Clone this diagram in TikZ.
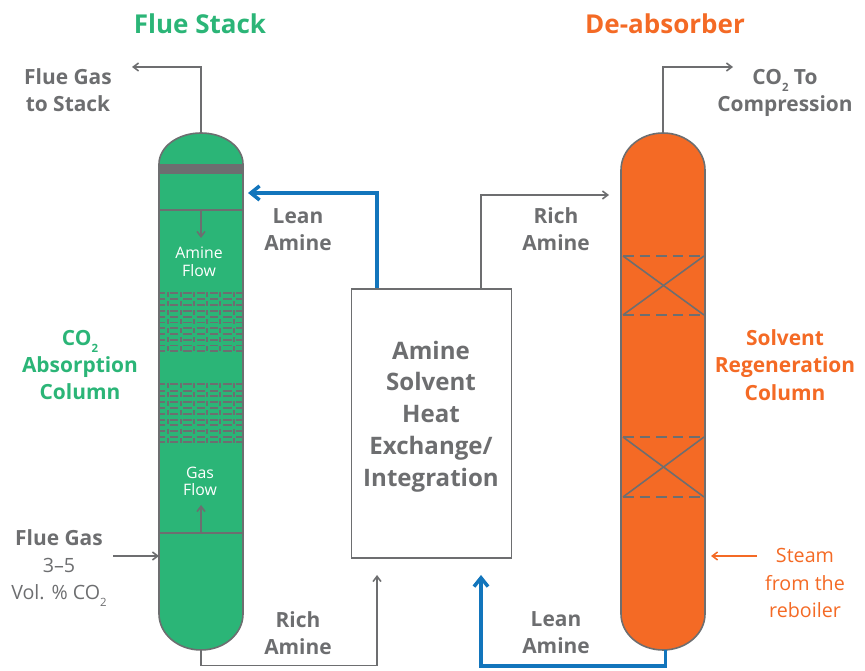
\documentclass[tikz,border=0pt]{standalone}
\usepackage{fontspec}
\setmainfont{Open Sans}
\usetikzlibrary{arrows.meta}
\definecolor{absgreen}{HTML}{2BB577}
\definecolor{regorange}{HTML}{F46A25}
\definecolor{linegray}{HTML}{6D6E70}
\definecolor{leanblue}{HTML}{1275BC}
\newcommand{\cotwo}{CO\raisebox{-0.6ex}{\fontsize{6.5}{7}\selectfont 2}}
\tikzset{
  label/.style={text=linegray, font=\bfseries\fontsize{11.9}{15.5}\selectfont, align=center, inner sep=0pt},
  note/.style={text=linegray, font=\fontsize{11.2}{15.4}\selectfont, align=center, inner sep=0pt},
  greenlabel/.style={label, text=absgreen},
  orangelabel/.style={label, text=regorange},
  title/.style={font=\bfseries\fontsize{14.8}{17}\selectfont, inner sep=0pt},
  inner/.style={text=white, font=\fontsize{9}{10}\selectfont, align=center, inner sep=0pt},
  column/.style={minimum width=84*0.02cm, minimum height=517*0.02cm, inner sep=0pt},
  gas/.style={-{Straight Barb[length=3pt,width=4.5pt]}, draw=linegray, line width=0.9pt},
  amine/.style={-{Straight Barb[length=5pt,width=8pt]}, draw=leanblue, line width=2pt},
  tray/.style={draw=linegray, line width=0.9pt},
  pack/.style={draw=linegray, line width=1pt}
}
\newcommand{\packing}[2]{%
  \foreach \py in {#1} {
    \draw[pack] (160,\py) -- (165,\py);
    \foreach \px in {170,183.3,196.7,210,223.3} \draw[pack] (\px,\py) -- ++(8.3,0);
    \draw[pack] (236,\py) -- (242,\py);
  }
  \foreach \py in {#2}
    \foreach \px in {167.7,181,193.7,207,220.3,233.7} \draw[pack] (\px,\py-2.5) -- ++(0,5);
}
\begin{document}
\begin{tikzpicture}[x=0.02cm,y=-0.02cm]
  \useasboundingbox (0,0) rectangle (865,671);

  % columns
  \node[column] (Absorber) at (201,391.5) {};
  \node[column] (Regenerator) at (663,391.5) {};
  \draw[fill=absgreen, draw=linegray, line width=0.9pt] (159,164) arc[start angle=180, end angle=0, x radius=42, y radius=-31] -- (243,614) arc[start angle=0, end angle=-180, x radius=42, y radius=-36] -- cycle;
  \draw[fill=regorange, draw=linegray, line width=0.9pt] (621,170) arc[start angle=180, end angle=0, x radius=42, y radius=-37] -- (705,614) arc[start angle=0, end angle=-180, x radius=42, y radius=-36] -- cycle;

  % absorber internals
  \fill[linegray] (159,164) rectangle (243,174);
  \draw[tray] (159,210) -- (243,210);
  \draw[tray] (159,533) -- (243,533);
  \packing{293,299,305,311,317,322.5,328,334,340,345.5,351}{295,304,312.7,321.7,330.7,340,349}
  \packing{384,390.7,396.3,402,408,413.7,419.7,425.3,431.3,437,442.3}{385.3,394.7,403.7,413,422,431.3,440.3}
  \coordinate (AmineTop) at (201,210);
  \coordinate (AmineEnd) at (201,238);
  \coordinate (GasBase) at (201,533);
  \coordinate (GasEnd) at (201,505);
  \draw[gas] (AmineTop) -- (AmineEnd);
  \draw[gas] (GasBase) -- (GasEnd);
  \node[inner] (AmineFlow) at (199,261.5) {Amine\\Flow};
  \node[inner] (GasFlow) at (200,481.5) {Gas\\Flow};

  % regenerator internals
  \foreach \ya/\yb in {256/315,437/497} {
    \draw[tray, dash pattern=on 6pt off 3.4pt] (623,\ya) -- (704,\ya);
    \draw[tray, dash pattern=on 6pt off 3.4pt] (623,\yb) -- (704,\yb);
    \draw[tray] (623,\ya) -- (704,\yb);
    \draw[tray] (704,\ya) -- (623,\yb);
  }

  % exchanger
  \node[draw=linegray, line width=0.9pt, minimum width=160*0.02cm, minimum height=269*0.02cm, inner sep=0pt] (Exchanger) at (431.5,423.5) {};
  \node[label, font=\bfseries\fontsize{13.7}{18.1}\selectfont] (ExchangerText) at (431,416.5) {Amine\\Solvent\\Heat\\Exchange/\\Integration};

  % titles
  \node[title, text=absgreen] (FlueStack) at (200,24) {Flue Stack};
  \node[title, text=regorange] (DeAbsorber) at (665,24) {De-absorber};

  % labels
  \node[label] (FlueToStack) at (68,90.5) {Flue Gas\\to Stack};
  \node[label] (CompressionLabel) at (785,93) {\cotwo{} To\\Compression};
  \node[label] (LeanTop) at (298,229.5) {Lean\\Amine};
  \node[label] (RichTop) at (556,229.5) {Rich\\Amine};
  \node[label] (RichBottom) at (298,633) {Rich\\Amine};
  \node[label] (LeanBottom) at (556,633) {Lean\\Amine};
  \node[greenlabel] (AbsorptionLabel) at (80,365) {\cotwo\\Absorption\\Column};
  \node[orangelabel] (RegenLabel) at (785,365) {Solvent\\Regeneration\\Column};
  \node[note] (FlueIn) at (59,568) {{\bfseries\fontsize{11.9}{15.4}\selectfont Flue Gas}\\3–5\\Vol. \% \cotwo};
  \node[note, text=regorange] (SteamLabel) at (805,583) {Steam\\from the\\reboiler};

  % connectors
  \coordinate (StackEnd) at (132,67);
  \coordinate (CompEnd) at (733,67);
  \coordinate (AbsIn) at (159,556);
  \coordinate (FlueStart) at (113,556);
  \coordinate (SteamStart) at (757,556);
  \coordinate (SteamEnd) at (711,556);
  \coordinate (RichInEnd) at (609,195);
  \coordinate (LeanInEnd) at (248,193);
  \coordinate (RichOut) at (377,575);
  \coordinate (LeanOut) at (481,575);
  \draw[gas] (Absorber.north) |- (StackEnd);
  \draw[gas] (Regenerator.north) |- (CompEnd);
  \draw[gas] (FlueStart) -- (AbsIn);
  \draw[gas, draw=regorange] (SteamStart) -- (SteamEnd);
  \draw[gas] (Exchanger.north -| 481,0) |- (RichInEnd);
  \draw[amine] (Exchanger.north -| 377,0) |- (LeanInEnd);
  \draw[gas] (Absorber.south) |- (377,665.5) -- (RichOut);
  \draw[amine] (Regenerator.south -| 665.7,0) |- (481,666) -- (LeanOut);
\end{tikzpicture}
\end{document}
